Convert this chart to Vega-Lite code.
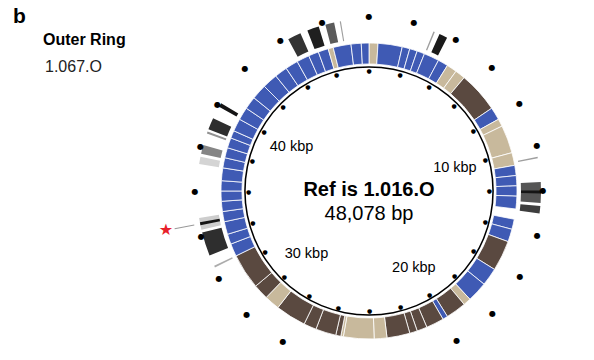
{
  "$schema": "https://vega.github.io/schema/vega-lite/v6.json",
  "width": 450,
  "height": 322,
  "autosize": "none",
  "padding": {"left": 144, "top": 30, "right": 0, "bottom": 0},
  "background": "white",
  "config": {"view": {"stroke": null}, "font": "Liberation Sans"},
  "title": {"text": "b", "anchor": "start", "frame": "group", "dx": -131, "dy": 18, "offset": 4, "fontSize": 21, "fontWeight": "bold", "font": "Liberation Sans", "color": "black"},
  "resolve": {"scale": {"color": "independent", "fill": "independent", "opacity": "independent"}},
  "datasets": {
    "genes": [
      {"start": 0, "end": 467, "cluster": "II"},
      {"start": 467, "end": 1736, "cluster": "I"},
      {"start": 1736, "end": 2137, "cluster": "I"},
      {"start": 2137, "end": 2537, "cluster": "I"},
      {"start": 2537, "end": 2938, "cluster": "I"},
      {"start": 2938, "end": 3739, "cluster": "I"},
      {"start": 3739, "end": 4274, "cluster": "I"},
      {"start": 4274, "end": 4808, "cluster": "II"},
      {"start": 4808, "end": 5342, "cluster": "II"},
      {"start": 5342, "end": 7479, "cluster": "III"},
      {"start": 7479, "end": 8147, "cluster": "I"},
      {"start": 8147, "end": 8547, "cluster": "II"},
      {"start": 8547, "end": 10016, "cluster": "II"},
      {"start": 10016, "end": 10684, "cluster": "II"},
      {"start": 10684, "end": 11218, "cluster": "I"},
      {"start": 11218, "end": 11752, "cluster": "I"},
      {"start": 11752, "end": 12287, "cluster": "I"},
      {"start": 12287, "end": 12954, "cluster": "I"},
      {"start": 13489, "end": 14023, "cluster": "I"},
      {"start": 14023, "end": 14691, "cluster": "I"},
      {"start": 14691, "end": 16293, "cluster": "III"},
      {"start": 16293, "end": 17228, "cluster": "I"},
      {"start": 17228, "end": 18296, "cluster": "I"},
      {"start": 18296, "end": 18697, "cluster": "II"},
      {"start": 18697, "end": 19765, "cluster": "III"},
      {"start": 19765, "end": 20033, "cluster": "I"},
      {"start": 20033, "end": 20967, "cluster": "III"},
      {"start": 20967, "end": 21502, "cluster": "III"},
      {"start": 21502, "end": 21902, "cluster": "III"},
      {"start": 21902, "end": 23104, "cluster": "III"},
      {"start": 23104, "end": 23772, "cluster": "II"},
      {"start": 23772, "end": 25375, "cluster": "II"},
      {"start": 25375, "end": 25508, "cluster": "II"},
      {"start": 25508, "end": 25775, "cluster": "III"},
      {"start": 25775, "end": 26844, "cluster": "III"},
      {"start": 26844, "end": 27511, "cluster": "III"},
      {"start": 27511, "end": 29114, "cluster": "III"},
      {"start": 29114, "end": 29915, "cluster": "II"},
      {"start": 29915, "end": 30717, "cluster": "III"},
      {"start": 30717, "end": 32586, "cluster": "III"},
      {"start": 32586, "end": 33254, "cluster": "I"},
      {"start": 33254, "end": 33788, "cluster": "I"},
      {"start": 33788, "end": 34456, "cluster": "I"},
      {"start": 34456, "end": 34991, "cluster": "I"},
      {"start": 34991, "end": 35525, "cluster": "I"},
      {"start": 35525, "end": 36059, "cluster": "I"},
      {"start": 36059, "end": 36593, "cluster": "I"},
      {"start": 36593, "end": 37261, "cluster": "I"},
      {"start": 37261, "end": 37795, "cluster": "I"},
      {"start": 37795, "end": 38329, "cluster": "I"},
      {"start": 38329, "end": 38863, "cluster": "I"},
      {"start": 38863, "end": 39264, "cluster": "I"},
      {"start": 39264, "end": 39932, "cluster": "I"},
      {"start": 39932, "end": 40599, "cluster": "I"},
      {"start": 40599, "end": 41267, "cluster": "I"},
      {"start": 41267, "end": 42068, "cluster": "I"},
      {"start": 42068, "end": 42870, "cluster": "I"},
      {"start": 42870, "end": 43537, "cluster": "I"},
      {"start": 43537, "end": 44205, "cluster": "I"},
      {"start": 44205, "end": 44873, "cluster": "I"},
      {"start": 44873, "end": 45407, "cluster": "I"},
      {"start": 45407, "end": 45941, "cluster": "I"},
      {"start": 45941, "end": 46208, "cluster": "II"},
      {"start": 46208, "end": 47143, "cluster": "I"},
      {"start": 47143, "end": 47677, "cluster": "I"},
      {"start": 47677, "end": 48078, "cluster": "I"}
    ],
    "hits": [
      {"start": 2938, "end": 3005, "identity": 76, "genome": "1.067.O"},
      {"start": 3232, "end": 3606, "identity": 99, "genome": "1.067.O"},
      {"start": 10484, "end": 10550, "identity": 76, "genome": "1.067.O"},
      {"start": 11619, "end": 12554, "identity": 88, "genome": "1.067.O"},
      {"start": 11993, "end": 12126, "identity": 100, "genome": "1.067.O"},
      {"start": 12687, "end": 13021, "identity": 92, "genome": "1.067.O"},
      {"start": 32533, "end": 32613, "identity": 74, "genome": "1.067.O"},
      {"start": 33120, "end": 34189, "identity": 95, "genome": "1.067.O"},
      {"start": 34322, "end": 34856, "identity": 69, "genome": "1.067.O"},
      {"start": 34522, "end": 34656, "identity": 100, "genome": "1.067.O"},
      {"start": 37261, "end": 37595, "identity": 68, "genome": "1.067.O"},
      {"start": 37728, "end": 38128, "identity": 80, "genome": "1.067.O"},
      {"start": 38662, "end": 38756, "identity": 78, "genome": "1.067.O"},
      {"start": 38863, "end": 39397, "identity": 95, "genome": "1.067.O"},
      {"start": 39971, "end": 40159, "identity": 100, "genome": "1.067.O"},
      {"start": 44339, "end": 44940, "identity": 94, "genome": "1.067.O"},
      {"start": 45274, "end": 45808, "identity": 98, "genome": "1.067.O"},
      {"start": 46115, "end": 46515, "identity": 87, "genome": "1.067.O"},
      {"start": 46770, "end": 46823, "identity": 76, "genome": "1.067.O"}
    ],
    "ticks": [
      {"pos": 0}, {"pos": 2000}, {"pos": 4000}, {"pos": 6000}, {"pos": 8000}, {"pos": 10000},
      {"pos": 12000}, {"pos": 14000}, {"pos": 16000}, {"pos": 18000}, {"pos": 20000}, {"pos": 22000},
      {"pos": 24000}, {"pos": 26000}, {"pos": 28000}, {"pos": 30000}, {"pos": 32000}, {"pos": 34000},
      {"pos": 36000}, {"pos": 38000}, {"pos": 40000}, {"pos": 42000}, {"pos": 44000}, {"pos": 46000}
    ],
    "labels": [
      {"pos": 10000, "label": "10 kbp"},
      {"pos": 20000, "label": "20 kbp"},
      {"pos": 30000, "label": "30 kbp"},
      {"pos": 40000, "label": "40 kbp"}
    ],
    "genome": [{"start": 0, "end": 48078}],
    "star": [{"pos": 34590, "start": 34570, "end": 34610}]
  },
  "layer": [
    {
      "data": {"name": "genome"},
      "mark": {"type": "arc", "radius": 124.8, "radius2": 123.3, "color": "black"},
      "encoding": {
        "theta": {"field": "start", "type": "quantitative", "stack": null, "scale": {"domain": [0, 48078], "range": [0, 6.283185]}},
        "theta2": {"field": "end"}
      }
    },
    {
      "data": {"name": "genes"},
      "mark": {"type": "arc", "radius": 148, "radius2": 127, "stroke": "white", "strokeWidth": 0.8},
      "encoding": {
        "theta": {"field": "start", "type": "quantitative", "stack": null, "scale": {"domain": [0, 48078], "range": [0, 6.283185]}},
        "theta2": {"field": "end"},
        "color": {"field": "cluster", "type": "nominal", "scale": {"domain": ["I", "II", "III"], "range": ["#3F5AB4", "#C8B99C", "#5A4940"]}, "legend": null}
      }
    },
    {
      "data": {"name": "hits"},
      "mark": {"type": "arc", "radius": 172, "radius2": 152},
      "encoding": {
        "theta": {"field": "start", "type": "quantitative", "stack": null, "scale": {"domain": [0, 48078], "range": [0, 6.283185]}},
        "theta2": {"field": "end"},
        "fill": {"field": "identity", "type": "quantitative", "scale": {"domain": [66, 100], "range": ["#e2e2e2", "#151515"]}, "legend": null},
        "opacity": {"field": "genome", "type": "nominal", "scale": {"range": [1]},
          "legend": {"title": "Outer Ring", "orient": "none", "legendX": -101, "legendY": 2, "titleFont": "Liberation Sans", "titleFontSize": 16, "titleFontWeight": "bold", "titleColor": "black", "titlePadding": 11, "labelFont": "Liberation Sans", "labelFontSize": 16, "labelColor": "#222", "symbolSize": 0, "symbolOpacity": 0, "symbolStrokeWidth": 0, "labelOffset": -14}}
      }
    },
    {
      "data": {"name": "ticks"},
      "mark": {"type": "text", "text": "●", "radius": 120.5, "font": "DejaVu Sans", "fontSize": 6, "align": "center", "baseline": "middle", "color": "black"},
      "encoding": {
        "theta": {"field": "pos", "type": "quantitative", "stack": null, "scale": {"domain": [0, 48078], "range": [0, 6.283185]}}
      }
    },
    {
      "data": {"name": "ticks"},
      "mark": {"type": "text", "text": "●", "radius": 174, "font": "DejaVu Sans", "fontSize": 8, "align": "center", "baseline": "middle", "color": "black"},
      "encoding": {
        "theta": {"field": "pos", "type": "quantitative", "stack": null, "scale": {"domain": [0, 48078], "range": [0, 6.283185]}}
      }
    },
    {
      "data": {"name": "labels"},
      "mark": {"type": "text", "radius": 89, "fontSize": 14.5, "align": "center", "baseline": "middle", "color": "black"},
      "encoding": {
        "theta": {"field": "pos", "type": "quantitative", "stack": null, "scale": {"domain": [0, 48078], "range": [0, 6.283185]}},
        "text": {"field": "label"}
      }
    },
    {
      "data": {"name": "star"},
      "mark": {"type": "arc", "radius": 198, "radius2": 178, "color": "#999999"},
      "encoding": {
        "theta": {"field": "start", "type": "quantitative", "stack": null, "scale": {"domain": [0, 48078], "range": [0, 6.283185]}},
        "theta2": {"field": "end"}
      }
    },
    {
      "data": {"name": "star"},
      "mark": {"type": "text", "text": "★", "radius": 207, "font": "DejaVu Sans", "fontSize": 16, "align": "center", "baseline": "middle", "color": "#e8202a"},
      "encoding": {
        "theta": {"field": "pos", "type": "quantitative", "stack": null, "scale": {"domain": [0, 48078], "range": [0, 6.283185]}}
      }
    },
    {
      "data": {"values": [{"label": "Ref is 1.016.O"}]},
      "mark": {"type": "text", "fontSize": 20, "fontWeight": "bold", "align": "center", "baseline": "middle", "dy": -1.5, "color": "black"},
      "encoding": {"text": {"field": "label"}}
    },
    {
      "data": {"values": [{"label": "48,078 bp"}]},
      "mark": {"type": "text", "fontSize": 20, "align": "center", "baseline": "middle", "dy": 23, "color": "black"},
      "encoding": {"text": {"field": "label"}}
    }
  ]
}
